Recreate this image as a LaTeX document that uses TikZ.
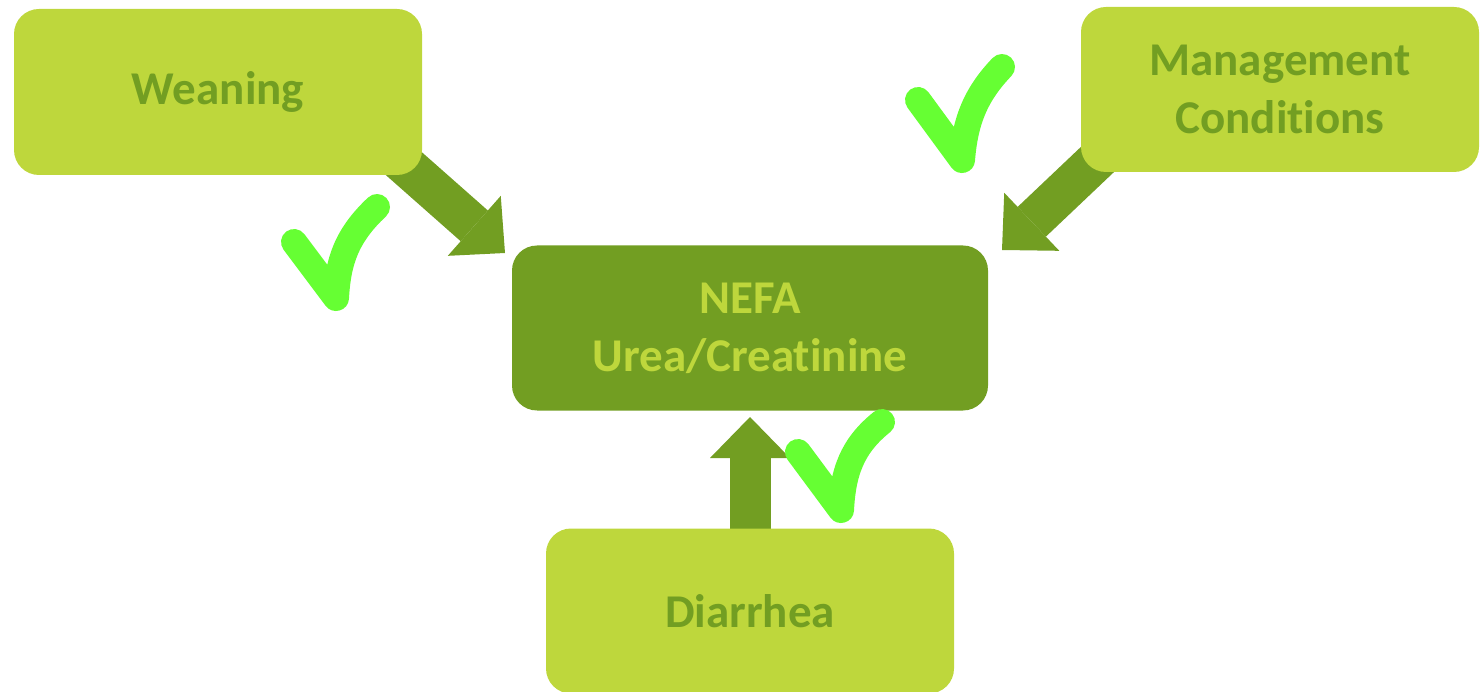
\documentclass[tikz,border=0pt]{standalone}
\usepackage{fontspec}
\setmainfont{Carlito}[Ligatures=NoCommon]
\usetikzlibrary{arrows.meta,backgrounds}
\definecolor{lightg}{HTML}{BED73C}
\definecolor{darkg}{HTML}{729E22}
\definecolor{checkg}{HTML}{66FF33}
\tikzset{
  box/.style={rectangle, rounded corners=25pt, inner sep=0pt, align=center,
    font=\fontsize{47}{58}\selectfont\bfseries},
  lightbox/.style={box, fill=lightg, text=darkg},
  darkbox/.style={box, fill=darkg, text=lightg},
  blockarrow/.style={draw=darkg, line width=41pt,
    -{Triangle[length=41pt,width=80pt,line width=0pt,fill=darkg]}},
  checkmark/.style={draw=checkg, line width=26pt, line cap=round, line join=round}
}
\begin{document}
\begin{tikzpicture}[x=1pt,y=-1pt]
\useasboundingbox (0,0) rectangle (1480,692);
\node[lightbox, minimum width=408pt, minimum height=166pt] (wean) at (218,92) {Weaning};
\node[lightbox, minimum width=398pt, minimum height=165pt] (mgmt) at (1280,89.5) {Management\\Conditions};
\node[darkbox, minimum width=476pt, minimum height=165pt] (nefa) at (750,328) {NEFA\\Urea/Creatinine};
\node[lightbox, minimum width=408pt, minimum height=165pt] (diar) at (750,611) {Diarrhea};
\coordinate (s1) at (385,147);
\coordinate (t1) at (505,253);
\coordinate (s2) at (1118,140);
\coordinate (t2) at (1002,250);
\coordinate (s3) at (750,560);
\coordinate (t3) at (750,417);
\begin{scope}[on background layer]
\draw[blockarrow] (s1) -- (t1);
\draw[blockarrow] (s2) -- (t2);
\draw[blockarrow] (s3) -- (t3);
\end{scope}
\draw[checkmark] (294,242) -- (336,298) .. controls (338,262) and (346,236) .. (377,207);
\draw[checkmark] (918,100) -- (962,160) .. controls (965,122) and (975,95) .. (1002,67);
\draw[checkmark] (798,452) -- (841,510) .. controls (843,472) and (852,446) .. (882,422);
\end{tikzpicture}
\end{document}
